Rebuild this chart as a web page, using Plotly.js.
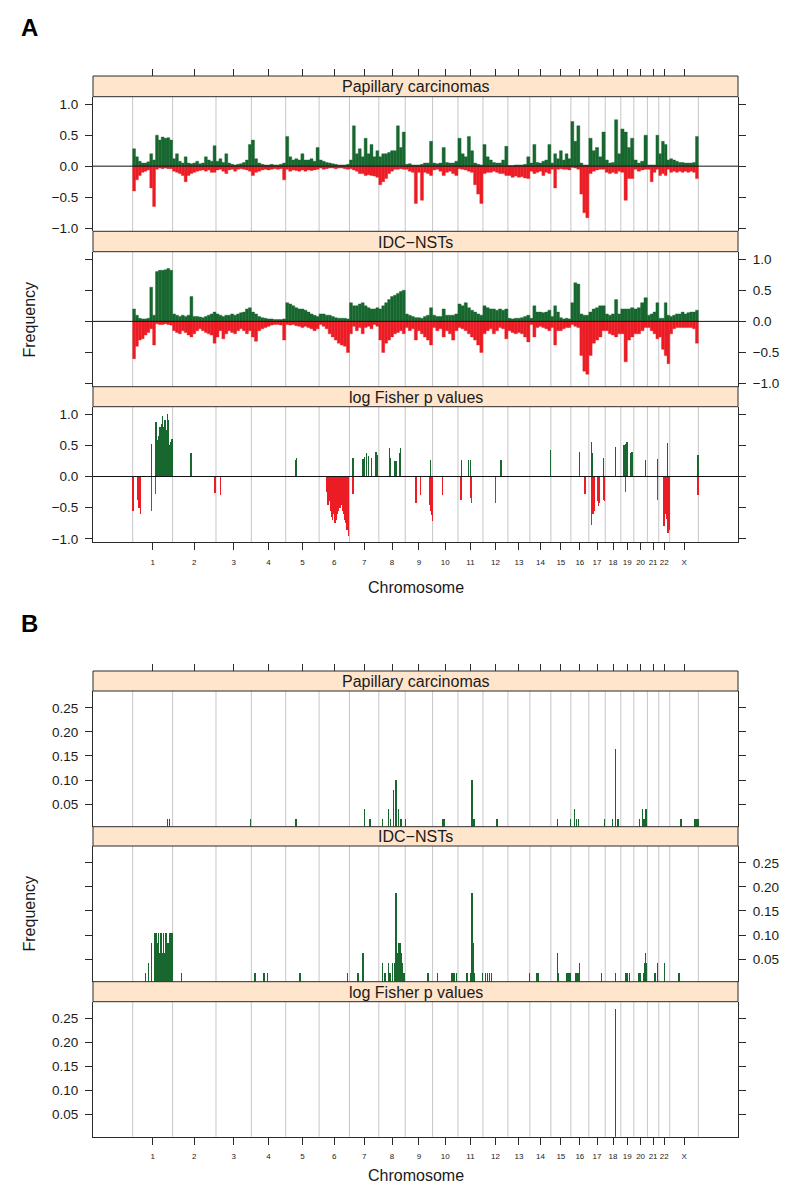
<!DOCTYPE html>
<html><head><meta charset="utf-8">
<script src="https://cdn.plot.ly/plotly-3.0.1.min.js"></script>
<style>html,body{margin:0;padding:0;background:#fff}#chart{width:800px;height:1200px}</style>
</head><body><div id="chart"></div>
<script>
// ---------- DATA ----------
const chromNames = ['1','2','3','4','5','6','7','8','9','10','11','12','13','14','15','16','17','18','19','20','21','22','X'];
// relative chromosome lengths (probe-index units) as laid out in the figure
const chromSizes = [200,217,177,172,167,152,147,132,137,127,125,125,110,105,100,90,82,78,65,68,57,55,143];

const panelTitles = ['Papillary carcinomas','IDC\u2212NSTs','log Fisher p values'];
const freqTicksA = [-1,-0.5,0,0.5,1];
const freqTickTextA = ['\u22121.0','\u22120.5','0.0','0.5','1.0'];
const freqTicksB = [0.05,0.10,0.15,0.20,0.25];
const freqTickTextB = ['0.05','0.10','0.15','0.20','0.25'];

// Panel A: frequency of gains / losses per chromosome (evenly spaced bins along each chromosome)
const papGain = [
 [0.28,0.15,0.08,0.05,0.05,0.07,0.2,0.1,0.5,0.42,0.47,0.45,0.46,0.42],
 [0.12,0.2,0.08,0.05,0.15,0.05,0.04,0.05,0.08,0.04,0.05,0.15,0.1,0.08,0.33],
 [0.08,0.12,0.06,0.2,0.05,0.03,0.02,0.03,0.04,0.06,0.1,0.35],
 [0.42,0.12,0.05,0.03,0.02,0.02,0.03,0.02,0.02,0.03,0.05],
 [0.48,0.15,0.1,0.12,0.1,0.2,0.1,0.1,0.12,0.08,0.3],
 [0.1,0.08,0.06,0.05,0.04,0.03,0.02,0.02,0.02,0.03],
 [0.1,0.65,0.2,0.28,0.15,0.45,0.2,0.35,0.15,0.25],
 [0.15,0.2,0.2,0.22,0.25,0.25,0.65,0.3,0.55],
 [0.03,0.04,0.02,0.02,0.02,0.03,0.05,0.05,0.4],
 [0.05,0.04,0.05,0.3,0.06,0.05,0.05,0.08],
 [0.45,0.2,0.15,0.48,0.25,0.05,0.03,0.02],
 [0.35,0.15,0.1,0.06,0.05,0.05,0.1,0.32],
 [0.01,0.01,0.02,0.02,0.02,0.03,0.15],
 [0.05,0.35,0.06,0.05,0.08,0.1,0.35],
 [0.05,0.2,0.12,0.25,0.1,0.2,0.12],
 [0.72,0.4,0.65,0.05,0.02,0.02],
 [0.45,0.25,0.3,0.15,0.55],
 [0.1,0.05,0.06,0.75,0.2],
 [0.6,0.55,0.3,0.45],
 [0.1,0.05,0.08,0.5],
 [0.02,0.02,0.02,0.5],
 [0.2,0.4,0.35,0.1],
 [0.12,0.1,0.08,0.06,0.06,0.05,0.05,0.05,0.06,0.48]
];
const papLoss = [
 [-0.4,-0.22,-0.15,-0.1,-0.08,-0.06,-0.35,-0.65,-0.05,-0.03,-0.04,-0.03,-0.04,-0.04],
 [-0.08,-0.1,-0.12,-0.15,-0.25,-0.15,-0.12,-0.1,-0.08,-0.07,-0.06,-0.08,-0.06,-0.1,-0.1],
 [-0.06,-0.05,-0.08,-0.12,-0.06,-0.05,-0.08,-0.05,-0.04,-0.05,-0.06,-0.08],
 [-0.15,-0.1,-0.08,-0.06,-0.05,-0.06,-0.05,-0.04,-0.05,-0.04,-0.22],
 [-0.05,-0.08,-0.06,-0.07,-0.08,-0.06,-0.08,-0.06,-0.07,-0.06,-0.05],
 [-0.03,-0.05,-0.04,-0.03,-0.03,-0.04,-0.03,-0.03,-0.04,-0.05],
 [-0.04,-0.06,-0.08,-0.12,-0.12,-0.15,-0.14,-0.15,-0.16,-0.18],
 [-0.3,-0.25,-0.2,-0.12,-0.08,-0.05,-0.05,-0.04,-0.05],
 [-0.05,-0.08,-0.1,-0.6,-0.1,-0.55,-0.1,-0.12,-0.15],
 [-0.06,-0.05,-0.08,-0.15,-0.1,-0.08,-0.12,-0.15],
 [-0.04,-0.05,-0.06,-0.08,-0.1,-0.3,-0.45,-0.6],
 [-0.12,-0.1,-0.1,-0.08,-0.1,-0.12,-0.12,-0.15],
 [-0.15,-0.18,-0.16,-0.18,-0.17,-0.19,-0.2],
 [-0.08,-0.12,-0.1,-0.08,-0.15,-0.1,-0.12],
 [-0.05,-0.35,-0.05,-0.04,-0.05,-0.05,-0.06],
 [-0.02,-0.03,-0.05,-0.45,-0.75,-0.83],
 [-0.12,-0.08,-0.06,-0.05,-0.05],
 [-0.1,-0.12,-0.1,-0.12,-0.08],
 [-0.1,-0.55,-0.2,-0.2],
 [-0.05,-0.08,-0.06,-0.05],
 [-0.05,-0.25,-0.1,-0.05],
 [-0.15,-0.12,-0.15,-0.05],
 [-0.1,-0.08,-0.1,-0.08,-0.1,-0.08,-0.1,-0.08,-0.1,-0.2]
];
const idcGain = [
 [0.2,0.1,0.05,0.04,0.04,0.05,0.55,0.1,0.8,0.82,0.82,0.83,0.85,0.82],
 [0.12,0.1,0.08,0.1,0.08,0.1,0.4,0.08,0.08,0.07,0.06,0.08,0.1,0.12,0.15],
 [0.12,0.1,0.08,0.1,0.1,0.12,0.1,0.12,0.14,0.15,0.2,0.22],
 [0.15,0.12,0.08,0.06,0.05,0.04,0.04,0.03,0.03,0.03,0.04],
 [0.3,0.28,0.25,0.22,0.2,0.2,0.18,0.15,0.12,0.1,0.08],
 [0.12,0.12,0.1,0.1,0.08,0.06,0.05,0.05,0.05,0.04],
 [0.3,0.25,0.25,0.28,0.3,0.25,0.22,0.2,0.2,0.22],
 [0.2,0.25,0.3,0.35,0.4,0.42,0.45,0.48,0.5],
 [0.12,0.1,0.08,0.06,0.06,0.05,0.08,0.1,0.22],
 [0.1,0.08,0.08,0.2,0.1,0.1,0.1,0.12],
 [0.28,0.25,0.3,0.22,0.18,0.15,0.12,0.1],
 [0.25,0.22,0.2,0.2,0.18,0.2,0.18,0.2],
 [0.05,0.04,0.05,0.05,0.06,0.08,0.1],
 [0.05,0.25,0.15,0.15,0.14,0.15,0.18],
 [0.08,0.25,0.15,0.06,0.04,0.05,0.04],
 [0.3,0.62,0.6,0.12,0.1,0.1],
 [0.15,0.2,0.22,0.25,0.25],
 [0.12,0.1,0.12,0.35,0.12],
 [0.2,0.2,0.2,0.22],
 [0.2,0.22,0.3,0.38],
 [0.1,0.12,0.15,0.3],
 [0.05,0.05,0.3,0.1],
 [0.08,0.1,0.12,0.12,0.15,0.12,0.14,0.15,0.15,0.18]
];
const idcLoss = [
 [-0.6,-0.4,-0.3,-0.28,-0.22,-0.18,-0.12,-0.38,-0.04,-0.05,-0.05,-0.04,-0.05,-0.06],
 [-0.15,-0.18,-0.2,-0.15,-0.18,-0.22,-0.25,-0.2,-0.15,-0.12,-0.15,-0.18,-0.2,-0.22,-0.35],
 [-0.25,-0.15,-0.28,-0.2,-0.15,-0.18,-0.2,-0.15,-0.12,-0.15,-0.2,-0.15],
 [-0.25,-0.32,-0.15,-0.12,-0.1,-0.08,-0.06,-0.05,-0.05,-0.06,-0.3],
 [-0.05,-0.06,-0.05,-0.07,-0.08,-0.1,-0.08,-0.1,-0.12,-0.15,-0.12],
 [-0.05,-0.08,-0.12,-0.2,-0.25,-0.3,-0.35,-0.38,-0.4,-0.5],
 [-0.2,-0.08,-0.15,-0.1,-0.2,-0.1,-0.08,-0.12,-0.05,-0.08],
 [-0.3,-0.5,-0.35,-0.3,-0.25,-0.2,-0.18,-0.15,-0.2],
 [-0.1,-0.15,-0.12,-0.3,-0.15,-0.2,-0.25,-0.3,-0.38],
 [-0.1,-0.15,-0.12,-0.25,-0.15,-0.2,-0.3,-0.15],
 [-0.1,-0.12,-0.15,-0.2,-0.25,-0.3,-0.38,-0.5],
 [-0.2,-0.15,-0.12,-0.2,-0.15,-0.1,-0.12,-0.28],
 [-0.15,-0.18,-0.2,-0.18,-0.2,-0.25,-0.33],
 [-0.05,-0.25,-0.1,-0.08,-0.1,-0.12,-0.15],
 [-0.1,-0.38,-0.15,-0.15,-0.12,-0.1,-0.1],
 [-0.05,-0.08,-0.1,-0.55,-0.8,-0.85],
 [-0.55,-0.35,-0.3,-0.25,-0.15],
 [-0.15,-0.2,-0.22,-0.25,-0.2],
 [-0.2,-0.65,-0.3,-0.25],
 [-0.2,-0.2,-0.15,-0.1],
 [-0.1,-0.15,-0.2,-0.28],
 [-0.25,-0.45,-0.55,-0.68],
 [-0.2,-0.12,-0.1,-0.1,-0.1,-0.1,-0.1,-0.1,-0.12,-0.35]
];

// Panel A: log Fisher p values (sparse: chromosome, position within chromosome, signed value)
const fisherChr = [
 '1','1','1','1','1','1','1','1','1','1','1','1','1','1','1',
 '2','5','5',
 '7','7','7','7','7','7','7','7',
 '8','8','8','8','8','8',
 '9','11','11','11','12','14','16','17','17','17','18',
 '19','19','19','19','19','20','21','22','X',
 '1','1','1','1','1','1','2','3',
 '6','6','6','6','6','6','6','6','6','6','6','6','6','6','6','6','6','6','6',
 '7','9','9','9','9','9','9','10','11','11','11','12','16',
 '17','17','17','17','17','17','17','17',
 '19','21','22','22','22','22','22','X'
];
const fisherPos = [
 95,116.5,121.5,128,136.5,145,150,156.5,161.5,168,173,178,183,190,196.5,
 91.5,51.5,55,
 17,67,73.5,87,95,112,133.5,142,
 53,60,78,86.5,103,109,
 126.5,16.5,53,61.5,90,101.5,43,15,20,75,50,
 16.5,23,31.5,48,56.5,60,52,45,141.5,
 1,25,31.5,40,95,115,211.5,23.5,
 38.5,44,50,56,62,68,74,80,86,92,98,104,110,116,122,128,134,140,146,
 17,53.5,75,120,126.5,130,135,50,15,61.5,66.5,61.5,71.5,
 15,21.5,28,43,50,53,73,78,
 25,52,26.5,33,40,46.5,51.5,141.5
];
const fisherVal = [
 0.52,0.88,0.58,0.65,0.8,0.85,0.97,0.8,0.9,0.75,1.0,0.9,0.5,0.55,0.6,
 0.38,0.27,0.3,
 0.3,0.28,0.32,0.37,0.33,0.3,0.4,0.35,
 0.45,0.3,0.25,0.25,0.38,0.45,
 0.27,0.27,0.27,0.26,0.26,0.42,0.4,0.55,0.38,0.3,0.47,
 0.5,0.52,0.55,0.38,0.4,0.27,0.28,0.53,0.35,
 -0.55,-0.38,-0.5,-0.6,-0.55,-0.28,-0.27,-0.3,
 -0.25,-0.45,-0.4,-0.55,-0.65,-0.7,-0.6,-0.75,-0.7,-0.6,-0.55,-0.5,-0.45,-0.55,-0.6,-0.7,-0.75,-0.85,-0.95,
 -0.28,-0.42,-0.3,-0.45,-0.55,-0.62,-0.72,-0.3,-0.38,-0.35,-0.42,-0.42,-0.28,
 -0.78,-0.6,-0.55,-0.4,-0.48,-0.42,-0.38,-0.4,
 -0.25,-0.38,-0.8,-0.6,-0.68,-0.9,-0.85,-0.3
];

// Panel B: frequencies (sparse)
const papBChr = ['1','1','3','5','7','7','8','8','8','8','8','8','8','9','10','10','11','11','11','12','15','15','16','16','16','17','18','18','18','20','20','20','20','20','X','X','X','X'];
const papBPos = [175,185,173,51.5,75,103.5,20,48,60,74,86,99,111,2,52,58.5,70,75,81.5,70,31.5,96.5,16.5,26.5,38,78,35,50,63.5,28,45,51.5,58,65,56.5,126.5,136.5,141.5];
const papBVal = [0.02,0.02,0.02,0.02,0.04,0.02,0.02,0.04,0.02,0.08,0.1,0.04,0.02,0.02,0.02,0.02,0.1,0.02,0.02,0.02,0.02,0.02,0.04,0.02,0.02,0.02,0.02,0.165,0.02,0.02,0.04,0.02,0.04,0.04,0.02,0.02,0.02,0.02];

const idcBChr = ['1','1','1','1','1','1','1','1','1','1','1','1','1','1','1','1','1','1',
 '2','4','4','4','5','6','7','7',
 '8','8','8','8','8','8','8','8','8','8','8','8','8',
 '9','10','10','10','10','10','11','11','11','11','11','11','12','12','12','12',
 '13','14','14','15','15','15','15','15','16','16','16','16','17','18','19','19','19',
 '20','20','20','20','20','20','21','21','22','X'];
const idcBPos = [65,78,95,112,118,125,130,137,142,150,155,162,167,175,180,187,193,198,
 45,18.5,63.5,80,71.5,143.5,42,67,
 20,31.5,48,56.5,70,80,86.5,93,100,106.5,113,120,126.5,
 113.5,25,93.5,102,110,118.5,45,65,70,75,81.5,123,11.5,23,33,43,
 106.5,31.5,40,31.5,38,80,88,96,21.5,28,35,43,65,50,26.5,33,43,
 23,31.5,48,56.5,60,65,38.5,50,28,46.5];
const idcBVal = [0.021,0.042,0.083,0.104,0.104,0.083,0.104,0.0625,0.104,0.0625,0.104,0.0625,0.104,0.083,0.083,0.104,0.104,0.104,
 0.021,0.021,0.021,0.021,0.021,0.021,0.021,0.0625,
 0.042,0.021,0.042,0.021,0.042,0.042,0.1875,0.0625,0.083,0.083,0.0625,0.042,0.021,
 0.021,0.021,0.021,0.021,0.021,0.021,0.021,0.021,0.1875,0.083,0.021,0.021,0.021,0.021,0.021,0.021,
 0.021,0.021,0.021,0.0625,0.021,0.021,0.021,0.021,0.021,0.021,0.021,0.042,0.021,0.021,0.021,0.021,0.021,
 0.021,0.021,0.021,0.042,0.0625,0.042,0.021,0.042,0.042,0.021];

const fisherBChr = ['18'];
const fisherBPos = [50];
const fisherBVal = [0.27];

// ---------- STYLE / LAYOUT ----------
const W = 800, H = 1200;
const FONT = '"Liberation Sans", Arial, Helvetica, sans-serif';
const GREEN = '#17672f', RED = '#ec1c24', STRIP = '#ffe5cc', FRAME = '#2b2b2b', GRID = '#c6c6c6', TXT = '#1a1a1a';
const PLOT_L = 93, PLOT_R = 738;
const px = v => v / W;
const py = v => 1 - v / H;

// genome coordinates
const starts = []; let acc = 0;
chromSizes.forEach(s => { starts.push(acc); acc += s; });
const genomeEnd = acc;
const boundaries = starts.concat([genomeEnd]);
const centers = chromSizes.map((s, i) => starts[i] + s / 2);
const pad = 198.5;
const xRange = [-pad, genomeEnd + pad];

function binned(series) {
  const x = [], y = [], w = [];
  series.forEach((arr, ci) => {
    const bw = chromSizes[ci] / arr.length;
    arr.forEach((v, i) => { x.push(starts[ci] + (i + 0.5) * bw); y.push(v); w.push(bw); });
  });
  return { x, y, w };
}
function sparse(chrs, pos, vals, keep) {
  const x = [], y = [];
  for (let i = 0; i < vals.length; i++) {
    if (!keep(vals[i])) continue;
    x.push(starts[chromNames.indexOf(chrs[i])] + pos[i]);
    y.push(vals[i]);
  }
  return { x, y };
}

const traces = [];
function denseBar(series, color, xa, ya) {
  const d = binned(series);
  traces.push({ type: 'bar', x: d.x, y: d.y, width: d.w, xaxis: xa, yaxis: ya,
    marker: { color: color, line: { color: color, width: 0.4 } }, hoverinfo: 'skip', showlegend: false });
}
function sparseBar(chrs, pos, vals, keep, color, xa, ya, bw) {
  const d = sparse(chrs, pos, vals, keep);
  traces.push({ type: 'bar', x: d.x, y: d.y, width: d.x.map(() => bw), xaxis: xa, yaxis: ya,
    marker: { color: color, line: { width: 0 } }, hoverinfo: 'skip', showlegend: false });
}
denseBar(papGain, GREEN, 'x', 'y');
denseBar(papLoss, RED, 'x', 'y');
denseBar(idcGain, GREEN, 'x', 'y2');
denseBar(idcLoss, RED, 'x', 'y2');
sparseBar(fisherChr, fisherPos, fisherVal, v => v > 0, GREEN, 'x', 'y3', 6.5);
sparseBar(fisherChr, fisherPos, fisherVal, v => v < 0, RED, 'x', 'y3', 6.5);
sparseBar(papBChr, papBPos, papBVal, v => v > 0, GREEN, 'x2', 'y4', 6.5);
sparseBar(idcBChr, idcBPos, idcBVal, v => v > 0, GREEN, 'x2', 'y5', 6.5);
sparseBar(fisherBChr, fisherBPos, fisherBVal, v => v > 0, GREEN, 'x2', 'y6', 6.5);
// carriers for the top tick axes
traces.push({ type: 'scatter', x: [], y: [], xaxis: 'x3', yaxis: 'y', hoverinfo: 'skip', showlegend: false });
traces.push({ type: 'scatter', x: [], y: [], xaxis: 'x4', yaxis: 'y4', hoverinfo: 'skip', showlegend: false });

// panel geometry (pixels)
const panels = [
  { ya: 'y',  top: 96.7,  bot: 231.3, strip: [76, 96.7],     side: 'left',  A: true,  xa: 'x',  title: panelTitles[0] },
  { ya: 'y2', top: 251.7, bot: 386.7, strip: [231.3, 251.7], side: 'right', A: true,  xa: 'x',  title: panelTitles[1] },
  { ya: 'y3', top: 406.7, bot: 542,   strip: [386.7, 406.7], side: 'left',  A: true,  xa: 'x',  title: panelTitles[2] },
  { ya: 'y4', top: 691,   bot: 826.7, strip: [671, 691],     side: 'left',  A: false, xa: 'x2', title: panelTitles[0] },
  { ya: 'y5', top: 846,   bot: 981.7, strip: [826.7, 846],   side: 'right', A: false, xa: 'x2', title: panelTitles[1] },
  { ya: 'y6', top: 1001.7, bot: 1136.7, strip: [981.7, 1001.7], side: 'left', A: false, xa: 'x2', title: panelTitles[2] }
];

const layout = {
  width: W, height: H, margin: { l: 0, r: 0, t: 0, b: 0 },
  paper_bgcolor: '#fff', plot_bgcolor: '#fff',
  font: { family: FONT, color: TXT, size: 13.5 },
  barmode: 'overlay', bargap: 0, showlegend: false, hovermode: false,
  shapes: [], annotations: []
};

const xCommon = {
  domain: [px(PLOT_L), px(PLOT_R)], range: xRange, tickmode: 'array', tickvals: centers, ticktext: chromNames,
  ticks: 'outside', ticklen: 7, tickcolor: FRAME, tickwidth: 1, showgrid: false, zeroline: false, tickangle: 0,
  tickfont: { size: 8, family: FONT, color: TXT }, fixedrange: true
};
layout.xaxis  = Object.assign({}, xCommon, { anchor: 'y3', showline: true, linecolor: FRAME, linewidth: 1, ticklabelstandoff: 5 });
layout.xaxis2 = Object.assign({}, xCommon, { anchor: 'y6', showline: true, linecolor: FRAME, linewidth: 1, ticklabelstandoff: 5 });
layout.xaxis3 = Object.assign({}, xCommon, { overlaying: 'x', anchor: 'free', position: py(76), side: 'top', showticklabels: false, showline: false });
layout.xaxis4 = Object.assign({}, xCommon, { overlaying: 'x2', anchor: 'free', position: py(671), side: 'top', showticklabels: false, showline: false });

panels.forEach((p, i) => {
  const key = i === 0 ? 'yaxis' : 'yaxis' + (i + 1);
  layout[key] = {
    domain: [py(p.bot), py(p.top)], anchor: p.xa, side: p.side,
    range: p.A ? [-1.05, 1.12] : [0.003, 0.285],
    tickmode: 'array', tickvals: p.A ? freqTicksA : freqTicksB, ticktext: p.A ? freqTickTextA : freqTickTextB,
    ticks: 'outside', ticklen: 7, tickcolor: FRAME, tickwidth: 1, mirror: 'ticks',
    showline: true, linecolor: FRAME, linewidth: 1, showgrid: false, zeroline: false,
    tickfont: { size: 13.5, family: FONT, color: TXT }, ticklabelstandoff: 4, fixedrange: true
  };
  // chromosome boundary lines
  boundaries.forEach(b => {
    layout.shapes.push({ type: 'line', xref: p.xa, yref: p.ya + ' domain', x0: b, x1: b, y0: 0, y1: 1,
      line: { color: GRID, width: 1 }, layer: 'below' });
  });
  // zero line
  if (p.A) {
    layout.shapes.push({ type: 'line', xref: 'paper', yref: p.ya, x0: px(PLOT_L), x1: px(PLOT_R), y0: 0, y1: 0,
      line: { color: '#111', width: 1 }, layer: 'above' });
  }
  // strip
  layout.shapes.push({ type: 'rect', xref: 'paper', yref: 'paper', x0: px(PLOT_L), x1: px(PLOT_R),
    y0: py(p.strip[1]), y1: py(p.strip[0]), fillcolor: STRIP, line: { color: FRAME, width: 1 }, layer: 'above' });
  layout.annotations.push({ xref: 'paper', yref: 'paper', x: px((PLOT_L + PLOT_R) / 2), y: py((p.strip[0] + p.strip[1]) / 2 + 0.5),
    text: p.title, showarrow: false, xanchor: 'center', yanchor: 'middle', font: { size: 16, family: FONT, color: TXT } });
});

// panel letters and axis titles
[['A', 27.5], ['B', 623.5]].forEach(([t, y]) => {
  layout.annotations.push({ xref: 'paper', yref: 'paper', x: px(29.5), y: py(y), text: '<b>' + t + '</b>', showarrow: false,
    xanchor: 'center', yanchor: 'middle', font: { size: 24, family: FONT, color: '#000' } });
});
[587, 1175].forEach(y => {
  layout.annotations.push({ xref: 'paper', yref: 'paper', x: px((PLOT_L + PLOT_R) / 2), y: py(y), text: 'Chromosome', showarrow: false,
    xanchor: 'center', yanchor: 'middle', font: { size: 16, family: FONT, color: TXT } });
});
[319, 913].forEach(y => {
  layout.annotations.push({ xref: 'paper', yref: 'paper', x: px(28.5), y: py(y), text: 'Frequency', showarrow: false, textangle: -90,
    xanchor: 'center', yanchor: 'middle', font: { size: 16, family: FONT, color: TXT } });
});

Plotly.newPlot('chart', traces, layout, { staticPlot: true, displayModeBar: false });
</script>
</body></html>
